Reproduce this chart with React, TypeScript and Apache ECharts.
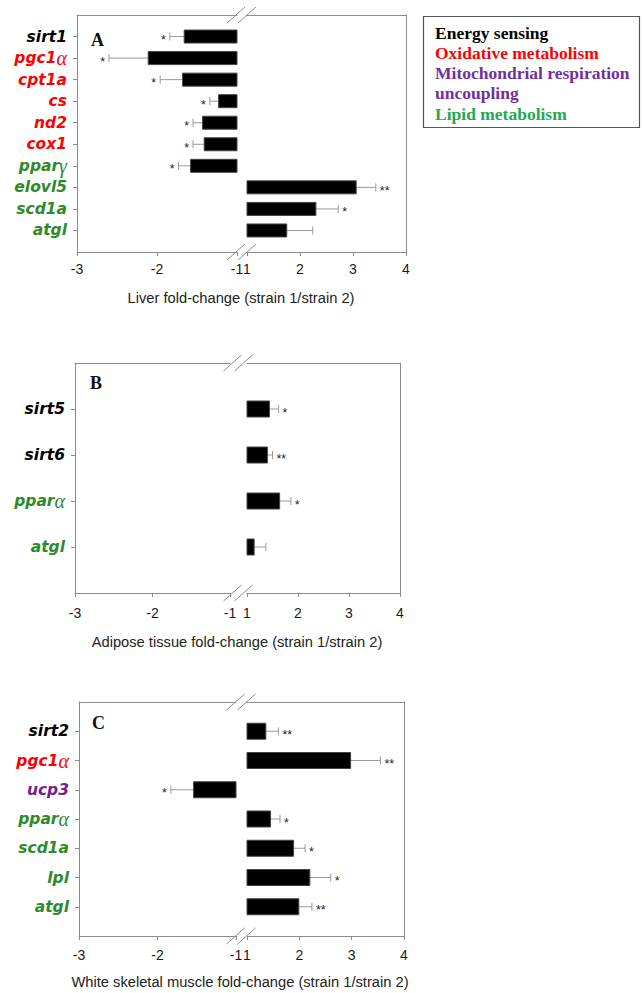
import React, { useEffect, useRef } from 'react';
import * as echarts from 'echarts';

// ---------- DATA ----------
const liverGenes = ['sirt1', 'pgc1α', 'cpt1a', 'cs', 'nd2', 'cox1', 'pparγ', 'elovl5', 'scd1a', 'atgl'];
const liverGroups = ['energy', 'oxidative', 'oxidative', 'oxidative', 'oxidative', 'oxidative', 'lipid', 'lipid', 'lipid', 'lipid'];
const liverValues = [-1.66, -2.11, -1.68, -1.23, -1.43, -1.41, -1.58, 3.06, 2.3, 1.75];
const liverErrors = [0.18, 0.49, 0.28, 0.11, 0.12, 0.14, 0.15, 0.37, 0.42, 0.49];
const liverSig = ['*', '*', '*', '*', '*', '*', '*', '**', '*', ''];

const adiposeGenes = ['sirt5', 'sirt6', 'pparα', 'atgl'];
const adiposeGroups = ['energy', 'energy', 'lipid', 'lipid'];
const adiposeValues = [1.44, 1.4, 1.64, 1.14];
const adiposeErrors = [0.18, 0.1, 0.22, 0.23];
const adiposeSig = ['*', '**', '*', ''];

const muscleGenes = ['sirt2', 'pgc1α', 'ucp3', 'pparα', 'scd1a', 'lpl', 'atgl'];
const muscleGroups = ['energy', 'oxidative', 'uncoupling', 'lipid', 'lipid', 'lipid', 'lipid'];
const muscleValues = [1.36, 2.98, -1.54, 1.45, 1.89, 2.2, 1.99];
const muscleErrors = [0.24, 0.57, 0.29, 0.18, 0.22, 0.4, 0.25];
const muscleSig = ['**', '**', '*', '*', '*', '*', '**'];

const negRange = [-3, -1];
const posRange = [1, 4];

const axisTitles = [
  'Liver fold-change (strain 1/strain 2)',
  'Adipose tissue fold-change (strain 1/strain 2)',
  'White skeletal muscle fold-change (strain 1/strain 2)',
];
const panelLetters = ['A', 'B', 'C'];

const legendLabels = ['Energy sensing', 'Oxidative metabolism', 'Mitochondrial respiration', 'uncoupling', 'Lipid metabolism'];
const legendColors = ['#000000', '#ff0000', '#7030a0', '#7030a0', '#1faa50'];

// ---------- STYLE / LAYOUT ----------
const groupColors: Record<string, string> = {
  energy: '#000000',
  oxidative: '#ff0000',
  uncoupling: '#7b1c8c',
  lipid: '#2c8a2c',
};
const frameColor = '#8c8c8c';
const errColor = '#9a9a9a';

const layouts = [
  { left: 77, gapL: 237, gapR: 247, right: 406, top: 15, bottom: 252, barH: 13, letter: [91, 40], title: [241, 298], labelMargin: 10 },
  { left: 75, gapL: 230, gapR: 247, right: 400, top: 363, bottom: 593, barH: 16, letter: [90, 383], title: [237, 642], labelMargin: 13 },
  { left: 79, gapL: 236, gapR: 247, right: 404, top: 702, bottom: 936, barH: 16, letter: [92, 723], title: [240, 982], labelMargin: 12 },
];

const panels = [
  { genes: liverGenes, groups: liverGroups, values: liverValues, errors: liverErrors, sig: liverSig },
  { genes: adiposeGenes, groups: adiposeGroups, values: adiposeValues, errors: adiposeErrors, sig: adiposeSig },
  { genes: muscleGenes, groups: muscleGroups, values: muscleValues, errors: muscleErrors, sig: muscleSig },
];

const rich: Record<string, any> = {};
Object.keys(groupColors).forEach((k) => {
  rich[k] = { color: groupColors[k], fontFamily: 'DejaVu Sans', fontWeight: 'bold', fontStyle: 'italic', fontSize: 15.5 };
  rich[k + 'G'] = { color: groupColors[k], fontFamily: 'Liberation Serif', fontWeight: 'normal', fontStyle: 'italic', fontSize: 20 };
});

function labelFor(gene: string, group: string) {
  const m = gene.match(/^(.*?)([\u03b1-\u03c9]?)$/);
  const latin = m ? m[1] : gene;
  const greek = m ? m[2] : '';
  return `{${group}|${latin}}` + (greek ? `{${group}G|${greek}}` : '');
}

function buildOption() {
  const grid: any[] = [];
  const xAxis: any[] = [];
  const yAxis: any[] = [];
  const series: any[] = [];
  const graphic: any[] = [];

  panels.forEach((p, pi) => {
    const L = layouts[pi];
    const cats = ['pad_top', ...p.genes, 'pad_bottom'];
    const gL = grid.length;
    grid.push({ left: L.left, top: L.top, width: L.gapL - L.left, height: L.bottom - L.top, containLabel: false });
    grid.push({ left: L.gapR, top: L.top, width: L.right - L.gapR, height: L.bottom - L.top, containLabel: false });

    [0, 1].forEach((side) => {
      const gi = gL + side;
      const range = side === 0 ? negRange : posRange;
      xAxis.push({
        type: 'value', gridIndex: gi, position: 'bottom', min: range[0], max: range[1], interval: 1,
        axisLine: { show: true, onZero: false, lineStyle: { color: frameColor, width: 1 } },
        axisTick: { show: true, length: 4, lineStyle: { color: frameColor } },
        axisLabel: { show: true, margin: L.labelMargin, fontSize: 14, fontFamily: 'Liberation Sans', color: '#1a1a1a', showMinLabel: true, showMaxLabel: true },
        splitLine: { show: false },
      });
      xAxis.push({
        type: 'value', gridIndex: gi, position: 'top', min: range[0], max: range[1], interval: 1,
        axisLine: { show: true, onZero: false, lineStyle: { color: frameColor, width: 1 } },
        axisTick: { show: false }, axisLabel: { show: false }, splitLine: { show: false },
      });
      yAxis.push({
        type: 'category', gridIndex: gi, data: cats, inverse: true, boundaryGap: false,
        position: side === 0 ? 'left' : 'right',
        axisLine: { show: true, onZero: false, lineStyle: { color: frameColor, width: 1 } },
        axisTick: side === 0
          ? { show: true, length: 4, lineStyle: { color: frameColor }, interval: (i: number) => i > 0 && i <= p.genes.length }
          : { show: false },
        axisLabel: side === 0
          ? {
              show: true, interval: 0, margin: 10, rich,
              formatter: (v: string) => {
                const idx = p.genes.indexOf(v);
                return idx < 0 ? '' : labelFor(p.genes[idx], p.groups[idx]);
              },
            }
          : { show: false },
        splitLine: { show: false },
      });

      const base = side === 0 ? negRange[1] : posRange[0];
      const data: number[][] = [];
      p.values.forEach((v, i) => {
        if ((side === 0 && v < 0) || (side === 1 && v > 0)) data.push([v, i + 1, p.errors[i], i]);
      });
      const xIdx = xAxis.length - 2;
      series.push({
        type: 'custom', xAxisIndex: xIdx, yAxisIndex: yAxis.length - 1, clip: false,
        encode: { x: 0, y: 1 },
        data,
        renderItem: (params: any, api: any) => {
          const v = api.value(0);
          const cat = api.value(1);
          const err = api.value(2);
          const idx = api.value(3);
          const dir = v < 0 ? -1 : 1;
          const p0 = api.coord([base, cat]);
          const p1 = api.coord([v, cat]);
          const pe = api.coord([v + dir * err, cat]);
          const h = L.barH;
          const sig = p.sig[idx];
          const children: any[] = [
            { type: 'line', shape: { x1: p1[0], y1: p1[1], x2: pe[0], y2: pe[1] }, style: { stroke: errColor, lineWidth: 1 } },
            { type: 'line', shape: { x1: pe[0], y1: pe[1] - 4, x2: pe[0], y2: pe[1] + 4 }, style: { stroke: errColor, lineWidth: 1 } },
            {
              type: 'rect',
              shape: { x: Math.min(p0[0], p1[0]), y: p1[1] - h / 2, width: Math.abs(p1[0] - p0[0]), height: h },
              style: { fill: '#000', stroke: '#444', lineWidth: 1 },
            },
          ];
          if (sig) {
            children.push({
              type: 'text', x: pe[0] + dir * 4, y: pe[1] + 3.5,
              style: {
                text: sig, fill: '#222', fontSize: 12.5, fontFamily: 'Liberation Sans',
                textAlign: dir > 0 ? 'left' : 'right', textVerticalAlign: 'middle',
              },
            });
          }
          return { type: 'group', children };
        },
      });
    });

    const cx = (L.gapL + L.gapR) / 2;
    [L.top, L.bottom].forEach((y) => {
      graphic.push({ type: 'line', shape: { x1: cx - 15, y1: y + 8, x2: cx + 3, y2: y - 8 }, style: { stroke: frameColor, lineWidth: 1 } });
      graphic.push({ type: 'line', shape: { x1: cx - 4, y1: y + 8, x2: cx + 14, y2: y - 8 }, style: { stroke: frameColor, lineWidth: 1 } });
    });
    graphic.push({
      type: 'text', x: L.letter[0], y: L.letter[1],
      style: { text: panelLetters[pi], fill: '#111', fontSize: 18, fontWeight: 'bold', fontFamily: 'Liberation Serif', textAlign: 'left', textVerticalAlign: 'middle' },
    });
    graphic.push({
      type: 'text', x: L.title[0], y: L.title[1],
      style: { text: axisTitles[pi], fill: '#222', fontSize: 14.7, fontFamily: 'Liberation Sans', textAlign: 'center', textVerticalAlign: 'middle' },
    });
  });

  graphic.push({
    type: 'rect', shape: { x: 423.5, y: 16.5, width: 216, height: 111 },
    style: { fill: '#fff', stroke: '#555', lineWidth: 1.2 },
  });
  const legendY = [33, 52.5, 73, 93, 113.5];
  legendLabels.forEach((t, i) => {
    graphic.push({
      type: 'text', x: 435, y: legendY[i],
      style: { text: t, fill: legendColors[i], fontSize: 17.5, fontWeight: 'bold', fontFamily: 'Liberation Serif', textAlign: 'left', textVerticalAlign: 'middle' },
    });
  });

  return { animation: false, backgroundColor: '#fff', grid, xAxis, yAxis, series, graphic };
}

export default function App() {
  const ref = useRef<HTMLDivElement>(null);
  useEffect(() => {
    if (!ref.current) return;
    const chart = echarts.init(ref.current, undefined, { renderer: 'svg' });
    chart.setOption(buildOption() as any);
    return () => chart.dispose();
  }, []);
  return <div ref={ref} style={{ position: 'absolute', left: 0, top: 0, width: 643, height: 993 }} />;
}
